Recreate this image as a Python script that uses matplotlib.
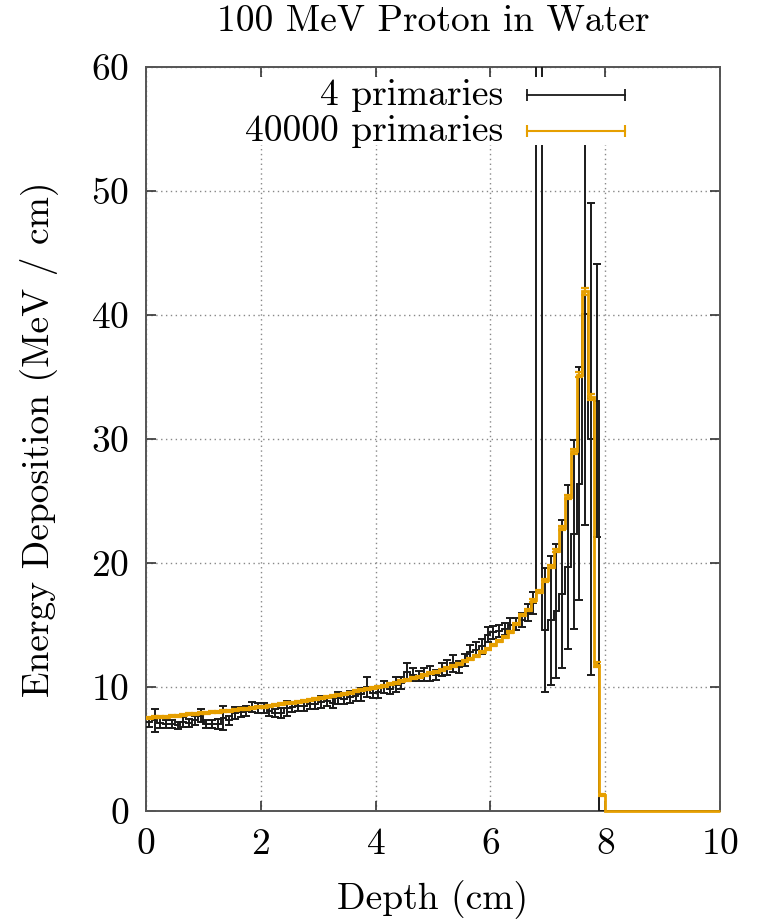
import numpy as np
import matplotlib
matplotlib.use("Agg")
import matplotlib.pyplot as plt
from matplotlib.patches import Rectangle

plt.rcParams['font.family'] = ['cmr10', 'DejaVu Serif']
plt.rcParams['mathtext.fontset'] = 'cm'
plt.rcParams['axes.formatter.use_mathtext'] = True

title = "100 MeV Proton in Water"
xlabel = "Depth (cm)"
ylabel = "Energy Deposition (MeV / cm)"
labels = ["4 primaries", "40000 primaries"]

bin_width = 0.1
n_bins = 100

# 4 primaries (bins 0.0-0.1 ... 9.9-10.0)
few_vals = [
    7.2, 7.3, 7.1, 7.0, 7.0, 6.9, 7.2, 7.1, 7.3, 7.7,
    7.0, 7.0, 7.0, 7.5, 7.3, 7.9, 8.0, 8.1, 8.4, 8.3,
    8.3, 8.1, 7.9, 7.9, 8.3, 8.4, 8.5, 8.5, 8.6, 8.6,
    8.8, 8.9, 8.7, 9.1, 9.0, 9.2, 9.3, 9.4, 10.0, 9.5,
    9.6, 10.0, 9.8, 10.2, 10.3, 11.2, 11.0, 10.9, 11.0, 11.1,
    11.0, 11.4, 11.6, 11.9, 11.6, 12.2, 12.8, 13.0, 13.3, 14.2,
    14.4, 14.5, 14.7, 15.0, 15.1, 15.4, 16.0, 16.8, 100.0, 14.6,
    15.4, 16.1, 17.5, 19.7, 22.3, 26.4, 40.1, 30.0, 33.1, 0.0,
] + [0.0] * 20
few_err = [
    0.4, 0.9, 0.4, 0.3, 0.3, 0.3, 0.4, 0.3, 0.4, 0.5,
    0.3, 0.3, 0.4, 1.0, 0.4, 0.5, 0.4, 0.4, 0.4, 0.4,
    0.4, 0.4, 0.3, 0.4, 0.6, 0.4, 0.4, 0.4, 0.4, 0.4,
    0.5, 0.4, 0.4, 0.5, 0.4, 0.5, 0.4, 0.5, 0.8, 0.4,
    0.5, 0.5, 0.4, 0.6, 0.5, 0.7, 0.5, 0.4, 0.5, 0.6,
    0.4, 0.5, 0.6, 0.7, 0.5, 0.5, 0.6, 0.6, 0.6, 0.6,
    0.5, 0.5, 0.5, 0.6, 0.5, 0.6, 0.7, 0.9, 30.0, 5.0,
    5.2, 5.4, 6.0, 6.6, 7.6, 9.4, 17.0, 19.0, 11.0, 0.0,
] + [0.0] * 20

# 40000 primaries
many_vals = [
    7.50, 7.55, 7.58, 7.62, 7.66, 7.70, 7.74, 7.80, 7.85, 7.90,
    7.94, 7.98, 8.02, 8.06, 8.10, 8.15, 8.20, 8.25, 8.30, 8.35,
    8.42, 8.48, 8.55, 8.62, 8.68, 8.75, 8.82, 8.90, 8.98, 9.06,
    9.14, 9.22, 9.30, 9.38, 9.46, 9.55, 9.64, 9.73, 9.82, 9.92,
    10.02, 10.12, 10.23, 10.34, 10.45, 10.57, 10.69, 10.82, 10.95, 11.09,
    11.23, 11.38, 11.54, 11.71, 11.89, 12.08, 12.29, 12.52, 12.80, 13.10,
    13.40, 13.70, 14.05, 14.45, 15.10, 15.80, 16.20, 17.00, 17.70, 18.60,
    19.70, 21.00, 22.80, 25.30, 29.00, 35.20, 41.90, 33.40, 11.80, 1.30,
] + [0.0] * 20
many_err = [0.08] * 60 + [
    0.08, 0.09, 0.09, 0.10, 0.10, 0.10, 0.11, 0.11, 0.12, 0.12,
    0.13, 0.14, 0.15, 0.17, 0.19, 0.22, 0.25, 0.25, 0.20, 0.10,
] + [0.0] * 20

c_black = "#1a1a1a"
c_orange = "#E69F00"
fs = 27

edges = np.linspace(0, n_bins * bin_width, n_bins + 1)
centers = (edges[:-1] + edges[1:]) / 2
few_vals = np.array(few_vals); few_err = np.array(few_err)
many_vals = np.array(many_vals); many_err = np.array(many_err)

fig = plt.figure(figsize=(7.59, 9.21), dpi=100)
ax = fig.add_axes([146/759, 1-811/921, (720-146)/759, (811-67)/921])

ax.stairs(few_vals, edges, baseline=None, color=c_black, lw=1.4, zorder=3)
m = few_vals > 0
ax.errorbar(centers[m], few_vals[m], yerr=few_err[m], fmt='none',
            ecolor=c_black, elinewidth=1.4, capsize=3, capthick=1.4, zorder=3)
ax.stairs(many_vals, edges, baseline=None, color=c_orange, lw=2.0, zorder=4,
          clip_on=False)
m2 = many_vals > 0
ax.errorbar(centers[m2], many_vals[m2], yerr=many_err[m2], fmt='none',
            ecolor=c_orange, elinewidth=1.6, capsize=3, capthick=1.6, zorder=4)

ax.set_xlim(0, 10)
ax.set_ylim(0, 60)
ax.set_xticks([0, 2, 4, 6, 8, 10])
ax.set_yticks([0, 10, 20, 30, 40, 50, 60])
ax.grid(True, color="#888888", linestyle=(0, (1, 2.5)), lw=1.0)
ax.tick_params(direction='in', length=7, width=1.2, top=True, right=True,
               labelsize=fs, pad=12, colors="#333333", labelcolor="black")
for s in ax.spines.values():
    s.set_color("#555555")
    s.set_linewidth(1.4)
    s.set_zorder(2.5)

ax.set_title(title, fontsize=fs, pad=26)
ax.set_xlabel(xlabel, fontsize=fs, labelpad=14)
ax.set_ylabel(ylabel, fontsize=fs, labelpad=24)

# legend (opaque key like gnuplot)
tr = ax.transAxes
ax.add_patch(Rectangle((0.14, 0.895), 0.77, 0.092, transform=tr,
                       facecolor="white", edgecolor="none", zorder=6))
ys = [0.962, 0.914]
for lab, col, lw, y in zip(labels, [c_black, c_orange], [1.3, 1.5], ys):
    ax.text(0.622, y, lab, transform=tr, ha='right', va='center',
            fontsize=fs, zorder=7)
    ax.plot([0.663, 0.834], [y, y], transform=tr, color=col, lw=lw,
            marker='|', markersize=9, markeredgewidth=lw, zorder=7,
            clip_on=False)

fig.savefig("out.png", dpi=100)
